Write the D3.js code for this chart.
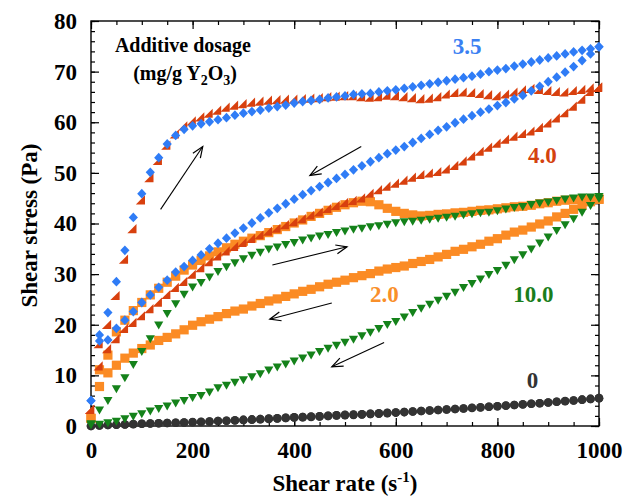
<!DOCTYPE html>
<html>
<head>
<meta charset="utf-8">
<script src="https://cdn.jsdelivr.net/npm/d3@7"></script>
<style>
  body { margin: 0; background: #fff; }
  text { font-family: "Liberation Serif", "Tinos", "Nimbus Roman", "Nimbus Roman No9 L", "FreeSerif", "Noto Serif", "DejaVu Serif", "Times", serif; font-weight: bold; }
</style>
</head>
<body>
<div id="chart"></div>
<script>
// shear rate grid (s^-1), same for the up and down ramps
let shearRate = [0, 16.7, 33.3, 50, 66.7, 83.3, 100, 116.7, 133.3, 150, 166.7, 183.3, 200, 216.7, 233.3, 250,
  266.7, 283.3, 300, 316.7, 333.3, 350, 366.7, 383.3, 400, 416.7, 433.3, 450, 466.7, 483.3, 500, 516.7, 533.3,
  550, 566.7, 583.3, 600, 616.7, 633.3, 650, 666.7, 683.3, 700, 716.7, 733.3, 750, 766.7, 783.3, 800, 816.7,
  833.3, 850, 866.7, 883.3, 900, 916.7, 933.3, 950, 966.7, 983.3, 1000];

// shear stress (Pa), one array per dosage and ramp direction
let stress0Up = [0.0, 0.1, 0.2, 0.25, 0.3, 0.35, 0.45, 0.5, 0.55, 0.6, 0.65, 0.7, 0.75, 0.8, 0.9, 1.0, 1.05, 1.1,
  1.2, 1.25, 1.35, 1.4, 1.5, 1.6, 1.7, 1.75, 1.8, 1.9, 2.0, 2.1, 2.15, 2.2, 2.3, 2.4, 2.45, 2.55, 2.65, 2.75, 2.85,
  2.95, 3.05, 3.15, 3.25, 3.35, 3.45, 3.55, 3.65, 3.8, 3.9, 4.0, 4.15, 4.25, 4.4, 4.5, 4.65, 4.8, 4.9, 5.05, 5.2,
  5.35, 5.5];
let stress0Down = [0.0, 0.1, 0.2, 0.25, 0.3, 0.4, 0.45, 0.5, 0.55, 0.6, 0.65, 0.7, 0.8, 0.85, 0.9, 1.0, 1.05, 1.15,
  1.2, 1.3, 1.35, 1.45, 1.5, 1.6, 1.7, 1.75, 1.85, 1.9, 2.0, 2.1, 2.2, 2.25, 2.3, 2.4, 2.5, 2.6, 2.65, 2.75, 2.85,
  2.95, 3.05, 3.15, 3.25, 3.35, 3.45, 3.6, 3.7, 3.8, 3.9, 4.05, 4.15, 4.3, 4.4, 4.5, 4.65, 4.8, 4.95, 5.05, 5.2,
  5.35, 5.5];

let stress35Up = [5.0, 18.0, 22.4, 28.5, 34.7, 41.2, 45.9, 50.1, 53.0, 55.7, 57.4, 58.6, 59.3, 59.7, 60.1, 60.5,
  60.9, 61.4, 61.8, 62.1, 62.4, 62.8, 63.1, 63.4, 63.8, 64.1, 64.3, 64.5, 64.8, 65.0, 65.2, 65.5, 65.6, 65.7, 66.0,
  66.2, 66.4, 66.7, 67.0, 67.3, 67.6, 67.9, 68.2, 68.5, 68.8, 69.1, 69.5, 70.0, 70.3, 70.6, 71.1, 71.5, 71.9, 72.3,
  72.7, 73.1, 73.5, 73.9, 74.2, 74.5, 74.9];
let stress35Down = [5.0, 16.8, 17.0, 19.3, 20.9, 22.6, 24.4, 25.9, 27.4, 28.8, 30.4, 31.5, 32.7, 33.8, 35.0, 36.1,
  37.1, 38.1, 39.1, 40.1, 41.1, 42.1, 43.0, 43.9, 44.8, 45.7, 46.5, 47.3, 48.1, 48.9, 49.7, 50.6, 51.4, 52.2, 53.0,
  53.8, 54.5, 55.2, 56.0, 56.8, 57.6, 58.4, 59.1, 59.9, 60.6, 61.3, 62.0, 62.6, 63.3, 63.9, 64.6, 65.3, 66.2, 67.1,
  68.0, 68.9, 69.9, 71.0, 72.2, 73.5, 74.9];

let stress40Up = [3.0, 16.0, 19.8, 25.5, 32.7, 38.7, 44.4, 48.8, 52.2, 55.2, 57.4, 59.0, 60.0, 60.8, 61.5, 62.1,
  62.7, 63.1, 63.4, 63.7, 63.9, 64.1, 64.2, 64.3, 64.3, 64.4, 64.5, 64.6, 64.8, 64.9, 65.0, 65.0, 64.8, 64.7, 64.8,
  65.1, 65.0, 64.8, 64.6, 64.4, 64.5, 64.8, 65.3, 65.6, 65.7, 65.6, 65.4, 65.2, 65.0, 65.3, 65.7, 66.1, 66.4, 66.2,
  66.0, 65.8, 65.7, 66.0, 66.2, 66.5, 66.7];
let stress40Down = [3.0, 11.6, 15.0, 17.0, 19.0, 20.2, 21.5, 22.9, 24.2, 25.7, 27.1, 28.3, 29.7, 31.0, 32.2, 33.3,
  34.3, 35.2, 36.0, 36.8, 37.5, 38.2, 38.8, 39.5, 40.1, 40.7, 41.4, 42.0, 42.7, 43.3, 43.9, 44.3, 44.8, 45.7, 46.4,
  47.1, 47.7, 48.3, 48.9, 49.4, 49.7, 50.0, 50.5, 51.2, 52.1, 53.1, 54.0, 54.8, 55.6, 56.4, 57.0, 57.5, 58.0, 58.7,
  59.6, 60.6, 61.6, 62.9, 64.3, 65.8, 66.6];

let stress20Up = [1.5, 11.1, 14.0, 18.6, 20.9, 22.8, 24.4, 25.9, 27.2, 28.4, 29.6, 30.8, 31.8, 32.7, 33.6, 34.4,
  35.2, 35.9, 36.5, 37.1, 37.6, 38.2, 38.8, 39.4, 40.1, 40.7, 41.4, 42.0, 42.6, 43.2, 43.7, 44.1, 44.4, 44.3, 43.7,
  43.0, 42.4, 42.0, 41.7, 41.5, 41.6, 41.8, 41.9, 42.1, 42.2, 42.4, 42.6, 42.7, 42.9, 43.1, 43.3, 43.4, 43.6, 43.9,
  44.1, 44.4, 44.6, 44.7, 44.8, 44.8, 44.8];
let stress20Down = [1.5, 7.8, 10.5, 12.0, 13.4, 14.4, 15.3, 16.0, 16.9, 17.5, 18.2, 19.0, 19.9, 20.6, 21.1, 21.6,
  22.2, 22.7, 23.1, 23.7, 24.2, 24.7, 25.1, 25.6, 26.1, 26.6, 27.0, 27.5, 28.0, 28.4, 28.8, 29.3, 29.7, 30.1, 30.6,
  31.0, 31.3, 31.6, 32.1, 32.5, 32.9, 33.4, 33.9, 34.5, 34.9, 35.4, 35.9, 36.5, 37.0, 37.7, 38.3, 38.7, 39.3, 39.9,
  40.5, 41.3, 42.0, 42.8, 43.6, 44.3, 44.8];

let stress100Up = [0.5, 3.2, 5.1, 7.4, 9.6, 12.2, 14.8, 17.3, 20.0, 22.3, 24.2, 26.1, 27.5, 28.4, 29.5, 30.6,
  31.5, 32.3, 33.1, 33.8, 34.4, 35.0, 35.4, 35.9, 36.3, 36.8, 37.2, 37.6, 37.9, 38.3, 38.6, 38.9, 39.1, 39.4, 39.6,
  39.9, 40.2, 40.4, 40.5, 40.7, 40.9, 41.1, 41.3, 41.5, 41.8, 42.0, 42.2, 42.3, 42.6, 42.9, 43.2, 43.4, 43.8, 44.1,
  44.3, 44.6, 44.9, 45.1, 45.3, 45.3, 45.4];
let stress100Down = [0.3, 0.4, 0.7, 1.0, 1.5, 2.0, 2.5, 3.0, 3.5, 4.0, 4.6, 5.1, 5.7, 6.1, 6.8, 7.6, 8.1, 8.7, 9.2,
  9.8, 10.4, 11.1, 11.7, 12.3, 12.9, 13.5, 14.1, 14.8, 15.4, 16.0, 16.6, 17.2, 17.9, 18.6, 19.3, 20.1, 20.7, 21.6,
  22.5, 23.3, 24.1, 24.9, 25.7, 26.5, 27.4, 28.2, 29.1, 30.0, 30.8, 31.8, 32.9, 33.9, 35.0, 36.2, 37.4, 38.7, 39.8,
  41.0, 42.3, 43.6, 45.0];

let xTicks = [0, 200, 400, 600, 800, 1000];
let yTicks = [0, 10, 20, 30, 40, 50, 60, 70, 80];

// series labels and arrows, in data units
let labels = [
  { text: "3.5", x: 712, y: 73.5, color: "#3a80f2" },
  { text: "4.0", x: 860, y: 52.0, color: "#d4420f" },
  { text: "2.0", x: 549, y: 24.5, color: "#f98f2a" },
  { text: "10.0", x: 831, y: 24.5, color: "#1a7e1c" },
  { text: "0", x: 858, y: 7.5, color: "#333333" }
];
let arrows = [
  [137, 42.8, 220, 55.2],
  [532, 55.2, 431, 49.5],
  [357, 31.8, 504, 35.4],
  [474, 24.3, 352, 21.1],
  [577, 16.5, 474, 11.7]
];

let width = 623;
let height = 496;
let mLeft = 91, mRight = 599, mTop = 21, mBottom = 426;

let svg = d3.select("#chart")
  .append("svg")
  .attr("width", width)
  .attr("height", height);

let xScale = d3.scaleLinear().domain([0, 1000]).range([mLeft, mRight]);
let yScale = d3.scaleLinear().domain([0, 80]).range([mBottom, mTop]);

// ticks on all four sides, pointing in
function drawAxis(axis, tx, ty, cls) {
  let g = svg.append("g")
    .attr("class", cls)
    .attr("transform", "translate(" + tx + "," + ty + ")")
    .call(axis);
  g.select(".domain").remove();
  g.attr("font-family", null).attr("font-size", null);
  g.selectAll("line").attr("stroke", "#000").attr("stroke-width", 1.2);
  g.selectAll("text").attr("fill", "#000").style("font-size", "23px");
  return g;
}
let minorX = d3.range(0, 1001, 50);
let minorY = d3.range(0, 81, 2);

drawAxis(d3.axisBottom(xScale).tickValues(minorX).tickSize(-4).tickFormat(""), 0, mBottom, "xMinor");
drawAxis(d3.axisBottom(xScale).tickValues(xTicks).tickSize(-8).tickPadding(16).tickFormat(d3.format("d")), 0, mBottom, "xAxis");
drawAxis(d3.axisTop(xScale).tickValues(minorX).tickSize(-4).tickFormat(""), 0, mTop, "xTopMinor");
drawAxis(d3.axisTop(xScale).tickValues(xTicks).tickSize(-8).tickFormat(""), 0, mTop, "xTop");
drawAxis(d3.axisLeft(yScale).tickValues(minorY).tickSize(-4).tickFormat(""), mLeft, 0, "yMinor");
drawAxis(d3.axisLeft(yScale).tickValues(yTicks).tickSize(-8).tickPadding(14).tickFormat(d3.format("d")), mLeft, 0, "yAxis");
drawAxis(d3.axisRight(yScale).tickValues(minorY).tickSize(-4).tickFormat(""), mRight, 0, "yRightMinor");
drawAxis(d3.axisRight(yScale).tickValues(yTicks).tickSize(-8).tickFormat(""), mRight, 0, "yRight");

svg.append("rect")
  .attr("x", mLeft)
  .attr("y", mTop)
  .attr("width", mRight - mLeft)
  .attr("height", mBottom - mTop)
  .attr("fill", "none")
  .attr("stroke", "#000")
  .attr("stroke-width", 1.4);

// marker shapes
let shapes = {
  circle: "M4.3,0A4.3,4.3 0 1,1 -4.3,0A4.3,4.3 0 1,1 4.3,0Z",
  diamond: "M0,-4.9L4.6,0L0,4.9L-4.6,0Z",
  square: "M-4.6,-4.6H4.6V4.6H-4.6Z",
  corner: "M-6,3.2L3.2,3.2L3.2,-6Z",
  down: "M-4.6,-3.2L4.6,-3.2L0,4.8Z"
};

let series = [
  { up: stress0Up, down: stress0Down, shape: "circle", color: "#333333" },
  { up: stress20Up, down: stress20Down, shape: "square", color: "#fb8b24" },
  { up: stress100Up, down: stress100Down, shape: "down", color: "#14821a" },
  { up: stress40Up, down: stress40Down, shape: "corner", color: "#d8400e" },
  { up: stress35Up, down: stress35Down, shape: "diamond", color: "#2f7cf6" }
];

series.forEach(function (s) {
  [s.up, s.down].forEach(function (vals) {
    svg.append("g")
      .selectAll("path")
      .data(shearRate)
      .enter()
      .append("path")
      .attr("d", shapes[s.shape])
      .attr("fill", s.color)
      .attr("transform", function (d, i) {
        return "translate(" + xScale(d) + "," + yScale(vals[i]) + ")";
      });
  });
});

// arrows
svg.append("defs")
  .append("marker")
  .attr("id", "head")
  .attr("viewBox", "-12 -6 14 12")
  .attr("refX", 0)
  .attr("refY", 0)
  .attr("markerWidth", 14)
  .attr("markerHeight", 12)
  .attr("markerUnits", "userSpaceOnUse")
  .attr("orient", "auto")
  .append("path")
  .attr("d", "M-11,-4.5L0,0L-11,4.5")
  .attr("fill", "none")
  .attr("stroke", "#000")
  .attr("stroke-width", 1.2);

svg.append("g")
  .selectAll("line")
  .data(arrows)
  .enter()
  .append("line")
  .attr("x1", function (d) { return xScale(d[0]); })
  .attr("y1", function (d) { return yScale(d[1]); })
  .attr("x2", function (d) { return xScale(d[2]); })
  .attr("y2", function (d) { return yScale(d[3]); })
  .attr("stroke", "#000")
  .attr("stroke-width", 1.1)
  .attr("marker-end", "url(#head)");

// series labels
svg.append("g")
  .selectAll("text")
  .data(labels)
  .enter()
  .append("text")
  .attr("x", function (d) { return xScale(d.x); })
  .attr("y", function (d) { return yScale(d.y); })
  .style("font-size", "23px")
  .attr("fill", function (d) { return d.color; })
  .text(function (d) { return d.text; });

// legend title
svg.append("text")
  .attr("x", xScale(47))
  .attr("y", yScale(73.9))
  .style("font-size", "20px")
  .text("Additive dosage");

let unit = svg.append("text")
  .attr("x", xScale(83))
  .attr("y", yScale(68.3))
  .style("font-size", "20px");
unit.append("tspan").text("(mg/g Y");
unit.append("tspan").style("font-size", "14px").attr("dy", 5).text("2");
unit.append("tspan").attr("dy", -5).text("O");
unit.append("tspan").style("font-size", "14px").attr("dy", 5).text("3");
unit.append("tspan").attr("dy", -5).text(")");

// axis titles
let xTitle = svg.append("text")
  .attr("x", (mLeft + mRight) / 2)
  .attr("y", 491)
  .attr("text-anchor", "middle")
  .style("font-size", "23px");
xTitle.append("tspan").text("Shear rate (s");
xTitle.append("tspan").style("font-size", "15px").attr("dy", -9).text("-1");
xTitle.append("tspan").attr("dy", 9).text(")");

svg.append("text")
  .attr("transform", "translate(37," + ((mTop + mBottom) / 2 + 2) + ")rotate(-90)")
  .attr("text-anchor", "middle")
  .style("font-size", "23px")
  .text("Shear stress (Pa)");
</script>
</body>
</html>
